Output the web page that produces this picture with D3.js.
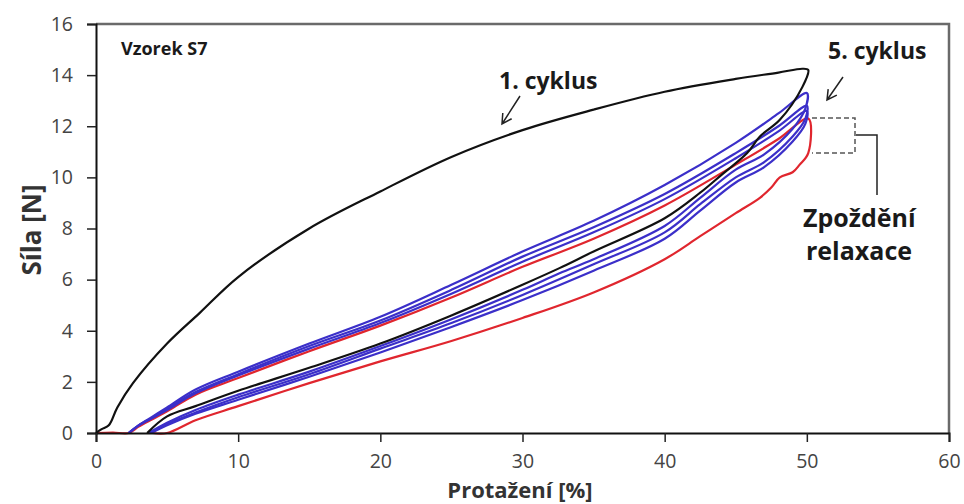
<!DOCTYPE html>
<html>
<head>
<meta charset="utf-8">
<script src="https://cdn.jsdelivr.net/npm/d3@7"></script>
<style>
  html, body { margin: 0; padding: 0; background: #fff; }
  svg { display: block; font-family: "Open Sans", Lato, sans-serif; }
</style>
</head>
<body>
<svg id="chart" width="964" height="504"></svg>
<script>
// tick labels
const xTicks = [0, 10, 20, 30, 40, 50, 60];
const yTicks = [0, 2, 4, 6, 8, 10, 12, 14, 16];

// hysteresis loops, [strain %, force N] - loading then unloading
const cycle1 = [[0,0],[0.4,0.15],[0.9,0.3],[1.5,1.0],[2.6,1.95],[5,3.5],[7.3,4.7],[10,6.1],[15,8.0],[20,9.45],[25,10.8],[30,11.85],[35,12.65],[40,13.35],[45,13.85],[48,14.1],[49.7,14.25],[50.1,14.2],
  [49.7,13.55],[48.1,12.25],[46.7,11.6],[45.8,10.95],[44,10.1],[42.5,9.4],[40,8.4],[35,7.1],[32.6,6.45],[30,5.8],[25,4.6],[20,3.5],[15,2.55],[10,1.65],[7,1.05],[5,0.65],[3.6,0]];

const cycle2 = [[2.3,0],[3,0.3],[4,0.65],[5,1.0],[7,1.7],[10,2.4],[15,3.5],[20,4.55],[25,5.8],[30,7.1],[35,8.3],[40,9.7],[45,11.35],[48,12.5],[50,13.3],
  [49.9,12.7],[49,11.9],[47,10.9],[45,10.3],[42.5,9.2],[40,8.1],[35,6.8],[32.6,6.25],[30,5.6],[25,4.45],[20,3.4],[15,2.4],[10,1.5],[7,0.9],[5,0.4],[3.7,0]];

const cycle3 = [[2.3,0],[3,0.3],[4,0.6],[5,0.95],[7,1.6],[10,2.3],[15,3.4],[20,4.4],[25,5.6],[30,6.9],[35,8.05],[40,9.35],[45,10.95],[48,12.0],[50,12.8],
  [49.9,12.3],[49,11.6],[47,10.6],[45,10.0],[42.5,8.95],[40,7.85],[35,6.6],[30,5.4],[25,4.3],[20,3.3],[15,2.3],[10,1.4],[7,0.8],[5,0.35],[3.8,0]];

const cycle4 = [[2.3,0],[3,0.3],[4,0.6],[5,0.9],[7,1.55],[10,2.25],[15,3.3],[20,4.3],[25,5.45],[30,6.7],[35,7.85],[40,9.15],[45,10.75],[48,11.8],[50,12.6],
  [49.9,12.1],[49,11.4],[47,10.4],[45,9.8],[42.5,8.7],[40,7.6],[35,6.35],[30,5.2],[25,4.15],[20,3.15],[15,2.2],[10,1.3],[7,0.75],[5,0.3],[3.9,0]];

const cycle5 = [[0,0],[1.2,0.02],[2.3,0],[3,0.25],[4,0.55],[5,0.85],[7,1.5],[10,2.15],[15,3.2],[20,4.2],[25,5.3],[30,6.5],[35,7.6],[40,8.9],[45,10.5],[48,11.5],[50.1,12.3],
  [50.1,10.95],[49.5,10.5],[49,10.2],[48.1,10.0],[47.5,9.6],[46.7,9.2],[45,8.6],[42.5,7.7],[40,6.8],[35,5.5],[30,4.5],[25,3.6],[20,2.8],[15,1.95],[10,1.05],[7,0.5],[5,0],[4,0]];

const margin = { top: 24, right: 15, bottom: 71, left: 96 },
    width = 964 - margin.left - margin.right,
    height = 504 - margin.top - margin.bottom;

const svg = d3.select("#chart");
const g = svg.append("g").attr("transform", `translate(${margin.left},${margin.top})`);

const x = d3.scaleLinear().domain([0, 60]).range([0, width]);
const y = d3.scaleLinear().domain([0, 16]).range([height, 0]);

// frame on top and right
g.append("path")
  .attr("d", `M0,0H${width}V${height}`)
  .attr("fill", "none")
  .attr("stroke", "#6a6a6a")
  .attr("stroke-width", 2.5);

const line = d3.line()
  .x(d => x(d[0]))
  .y(d => y(d[1]))
  .curve(d3.curveCatmullRom.alpha(0.5));

const series = [
  { pts: cycle5, color: "#e0262e" },
  { pts: cycle4, color: "#3b2fc9" },
  { pts: cycle3, color: "#3b2fc9" },
  { pts: cycle2, color: "#3b2fc9" },
  { pts: cycle1, color: "#111" }
];

g.selectAll(".loop")
  .data(series)
  .enter()
  .append("path")
    .attr("class", "loop")
    .attr("fill", "none")
    .attr("stroke", d => d.color)
    .attr("stroke-width", 2.2)
    .attr("stroke-linejoin", "round")
    .attr("d", d => line(d.pts));

// axes
const yAxis = g.append("g")
  .call(d3.axisLeft(y).tickValues(yTicks).tickSize(9).tickPadding(14));
const xAxis = g.append("g")
  .attr("transform", `translate(0,${height})`)
  .call(d3.axisBottom(x).tickValues(xTicks).tickSize(9).tickPadding(12));

[yAxis, xAxis].forEach(ax => {
  ax.select(".domain").attr("stroke", "#111").attr("stroke-width", 2);
  ax.selectAll(".tick line").attr("stroke", "#222").attr("stroke-width", 1.5);
  ax.selectAll("text")
    .attr("fill", "#444")
    .style("font-family", "\"Open Sans\", sans-serif")
    .style("font-size", "19.5px");
});

// axis titles
svg.append("text")
  .attr("x", 520)
  .attr("y", 498)
  .attr("text-anchor", "middle")
  .attr("font-size", "22px")
  .attr("font-weight", "bold")
  .attr("fill", "#333")
  .text("Protažení [%]");

svg.append("text")
  .attr("transform", "translate(41,230) rotate(-90)")
  .attr("text-anchor", "middle")
  .attr("font-size", "26px")
  .attr("font-weight", "bold")
  .attr("fill", "#333")
  .text("Síla [N]");

// annotations
const note = (tx, ty, s, size) => svg.append("text")
  .attr("x", tx).attr("y", ty)
  .attr("font-size", size)
  .attr("font-weight", "bold")
  .attr("fill", "#1a1a1a")
  .text(s);

note(121, 55, "Vzorek S7", "18px");
note(499, 89, "1. cyklus", "23px");
note(828, 59, "5. cyklus", "23px");
note(803, 227, "Zpoždění", "25px");
note(806, 260, "relaxace", "25px");

const arrow = (x1, y1, x2, y2) => {
  const a = Math.atan2(y2 - y1, x2 - x1), L = 11, w = 0.5;
  svg.append("path")
    .attr("d", `M${x1},${y1}L${x2},${y2}` +
      `M${x2 - L * Math.cos(a - w)},${y2 - L * Math.sin(a - w)}L${x2},${y2}` +
      `L${x2 - L * Math.cos(a + w)},${y2 - L * Math.sin(a + w)}`)
    .attr("fill", "none")
    .attr("stroke", "#222")
    .attr("stroke-width", 1.5);
};
arrow(520, 96, 502, 124);
arrow(843, 77, 827, 100);

// relaxation bracket
svg.append("path")
  .attr("d", "M812,118H855V153H812")
  .attr("fill", "none")
  .attr("stroke", "#555")
  .attr("stroke-width", 1.5)
  .attr("stroke-dasharray", "5,3");
svg.append("path")
  .attr("d", "M856,135H877V195")
  .attr("fill", "none")
  .attr("stroke", "#222")
  .attr("stroke-width", 1.5);
</script>
</body>
</html>
